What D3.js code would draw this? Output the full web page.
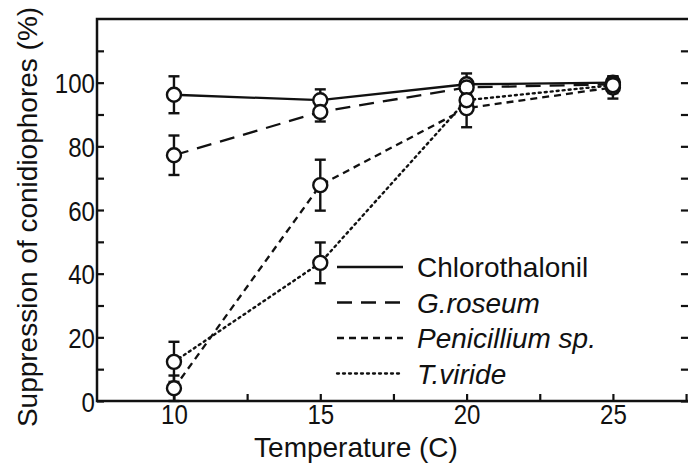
<!DOCTYPE html>
<html><head><meta charset="utf-8">
<script src="https://cdn.jsdelivr.net/npm/d3@7"></script>
<style>
html,body{margin:0;padding:0;background:#fff;}
svg{display:block;font-family:"Liberation Sans",Arial,Helvetica,sans-serif;}
</style></head>
<body><svg id="c" width="688" height="464"></svg>
<script>
const temperatures = [10, 15, 20, 25];
const seriesNames = ["Chlorothalonil", "G.roseum", "Penicillium sp.", "T.viride"];
const chlorothalonil = [96.2, 94.5, 99.5, 100];
const chlorothalonilErr = [5.8, 3.4, 3.4, 2.0];
const gRoseum = [77.2, 90.8, 98.5, 99.5];
const gRoseumErr = [6.2, 3.0, 2.0, 2.0];
const penicillium = [4.0, 67.8, 92.0, 98.5];
const penicilliumErr = [4.0, 8.0, 6.0, 3.5];
const tViride = [12.3, 43.4, 94.5, 99.2];
const tVirideErr = [6.3, 6.4, 3.0, 2.5];
const xTicks = [10, 15, 20, 25];
const xMinorTicks = [10, 12.5, 15, 17.5, 20, 22.5, 25, 27.5];
const yTicks = [0, 20, 40, 60, 80, 100];
const yMinorTicks = [0, 10, 20, 30, 40, 50, 60, 70, 80, 90, 100, 110];

const series = [
  {name: seriesNames[0], vals: chlorothalonil, err: chlorothalonilErr, dash: null, italic: false},
  {name: seriesNames[1], vals: gRoseum, err: gRoseumErr, dash: "15,9", italic: true},
  {name: seriesNames[2], vals: penicillium, err: penicilliumErr, dash: "7,5", italic: true},
  {name: seriesNames[3], vals: tViride, err: tVirideErr, dash: "2,4", italic: true}
];

const svg = d3.select("#c");
const xMin = 7.37, xMax = 27.7;
const x = d3.scaleLinear().domain([7.37, 27.6]).range([97, 689]);
const y = d3.scaleLinear().domain([0, 120]).range([401, 19]);

const g = svg.append("g");

// frame
g.append("rect").attr("x", x(xMin)).attr("y", y(120)).attr("width", x(xMax) - x(xMin)).attr("height", y(0) - y(120))
  .attr("fill", "none").attr("stroke", "#111").attr("stroke-width", 2.5);

// left axis ticks (inward)
const yAxisL = d3.axisRight(y).tickValues(yMinorTicks).tickSize(7).tickFormat("");
g.append("g").attr("transform", `translate(${x(xMin)},0)`).call(yAxisL)
  .call(s => s.select(".domain").remove())
  .call(s => s.selectAll("line").attr("stroke", "#111").attr("stroke-width", 2.2));
const yAxisR = d3.axisLeft(y).tickValues(yMinorTicks).tickSize(11).tickFormat("");
g.append("g").attr("transform", `translate(${x(xMax)},0)`).call(yAxisR)
  .call(s => s.select(".domain").remove())
  .call(s => s.selectAll("line").attr("stroke", "#111").attr("stroke-width", 2.2));
// y labels
const yLab = d3.axisLeft(y).tickValues(yTicks).tickSize(0).tickPadding(0).tickFormat(d3.format("d"));
g.append("g").attr("transform", `translate(${x(xMin) - 2},0)`).call(yLab)
  .call(s => s.select(".domain").remove())
  .call(s => s.selectAll("text").attr("font-size", 28).attr("fill", "#111")
    .attr("font-family", "Liberation Sans, Arial, sans-serif").attr("dy", "0.36em")
    .attr("transform", "scale(0.86,1)"));

// bottom ticks (inward)
const xAxisB = d3.axisTop(x).tickValues(xMinorTicks).tickSize(7).tickFormat("");
g.append("g").attr("transform", `translate(0,${y(0)})`).call(xAxisB)
  .call(s => s.select(".domain").remove())
  .call(s => s.selectAll("line").attr("stroke", "#111").attr("stroke-width", 2.2));
const xLab = d3.axisBottom(x).tickValues(xTicks).tickSize(0).tickPadding(3).tickFormat(d3.format("d"));
g.append("g").attr("transform", `translate(0,${y(0)})`).call(xLab)
  .call(s => s.select(".domain").remove())
  .call(s => s.selectAll("text").attr("font-size", 28).attr("fill", "#111")
    .attr("font-family", "Liberation Sans, Arial, sans-serif").attr("dy", "0.71em")
    .attr("transform", "scale(0.86,1)"));

// axis titles
svg.append("text").attr("transform", "translate(356,457)").attr("text-anchor", "middle")
  .attr("font-size", 28).attr("fill", "#111").text("Temperature (C)");
svg.append("text").attr("transform", "translate(37,217) rotate(-90)").attr("text-anchor", "middle")
  .attr("font-size", 28).attr("fill", "#111").text("Suppression of conidiophores (%)");

// lines
const line = d3.line().x((d, i) => x(temperatures[i])).y(d => y(d));
series.forEach(s => {
  g.append("path").datum(s.vals).attr("d", line).attr("fill", "none").attr("stroke", "#111")
    .attr("stroke-width", s.dash === "2,4" ? 2.4 : 2.3).attr("stroke-dasharray", s.dash)
    .attr("stroke-linecap", s.dash === "2,4" ? "round" : "butt");
});

// error bars
series.forEach(s => {
  const eb = g.append("g");
  s.vals.forEach((v, i) => {
    const cx = x(temperatures[i]);
    const hi = y(v + s.err[i]), lo = y(Math.max(0, v - s.err[i]));
    eb.append("line").attr("x1", cx).attr("x2", cx).attr("y1", hi).attr("y2", lo).attr("stroke", "#111").attr("stroke-width", 2.4);
    eb.append("line").attr("x1", cx - 5.5).attr("x2", cx + 5.5).attr("y1", hi).attr("y2", hi).attr("stroke", "#111").attr("stroke-width", 2.4);
    eb.append("line").attr("x1", cx - 5.5).attr("x2", cx + 5.5).attr("y1", lo).attr("y2", lo).attr("stroke", "#111").attr("stroke-width", 2.4);
  });
});

// markers
series.forEach(s => {
  g.append("g").selectAll("circle").data(s.vals).join("circle")
    .attr("cx", (d, i) => x(temperatures[i])).attr("cy", d => y(d)).attr("r", 7)
    .attr("fill", "#fff").attr("stroke", "#111").attr("stroke-width", 2.4);
});

// legend
const leg = svg.append("g");
const legY0 = 267, legStep = 35.5;
series.forEach((s, i) => {
  const ly = legY0 + i * legStep;
  leg.append("line").attr("x1", 337).attr("x2", 403).attr("y1", ly).attr("y2", ly)
    .attr("stroke", "#111").attr("stroke-width", 2.3).attr("stroke-dasharray", s.dash)
    .attr("stroke-linecap", s.dash === "2,4" ? "round" : "butt");
  leg.append("text").attr("transform", `translate(417,${ly + 10})`).attr("font-size", 28)
    .attr("font-style", s.italic ? "italic" : "normal").attr("fill", "#111").text(s.name);
});
</script></body></html>
